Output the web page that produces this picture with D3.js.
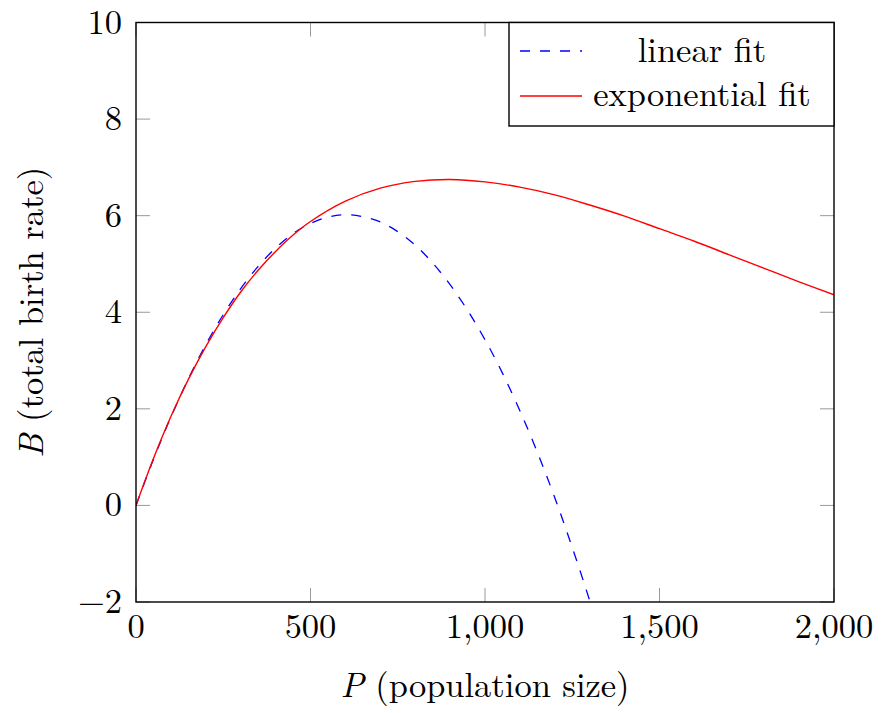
<!DOCTYPE html>
<html><head><meta charset="utf-8">
<script src="https://cdn.jsdelivr.net/npm/d3@7"></script>
<style>
html,body{margin:0;padding:0;background:#fff;}
</style></head>
<body><svg id="chart" width="882" height="713"></svg>
<script>
// Data
const linearP = [0,50,100,150,200,250,300,350,400,450,500,550,600,650,700,750,800,850,900,950,1000,1050,1100,1150,1200,1250,1300,1320];
const linearB = [0,0.955,1.83,2.62,3.33,3.95,4.49,4.95,5.33,5.63,5.84,5.97,6.02,5.98,5.87,5.67,5.39,5.02,4.57,4.04,3.43,2.74,1.96,1.1,0.16,-0.87,-1.97,-2.44];
const expP = [0,50,100,150,200,250,300,350,400,450,500,600,700,800,900,1000,1100,1200,1300,1400,1500,1600,1700,1800,1900,2000];
const expB = [0,0.97,1.84,2.61,3.29,3.89,4.42,4.87,5.26,5.6,5.88,6.3,6.57,6.71,6.75,6.7,6.59,6.43,6.22,5.99,5.73,5.47,5.19,4.91,4.63,4.36];
const xTicks = [0,500,1000,1500,2000];
const yTicks = [-2,0,2,4,6,8,10];
const legendLabels = ["linear fit","exponential fit"];
const xLabel = "(population size)", xVar = "P";
const yLabel = "(total birth rate)", yVar = "B";

const FONT = "Latin Modern Roman, CMU Serif, Liberation Serif, serif";
const svg = d3.select("#chart");
const root = svg.append("g").attr("font-family",FONT);
const L = 136, R = 834, T = 22.5, B = 602;
const x = d3.scaleLinear().domain([0,2000]).range([L,R]);
const y = d3.scaleLinear().domain([-2,10]).range([B,T]);
const fmt = d3.format(",");

svg.append("defs").append("clipPath").attr("id","clip")
  .append("rect").attr("x",L).attr("y",T).attr("width",R-L).attr("height",B-T);

// ticks (inside, on all four sides)
const tickLen = 14;
const tg = root.append("g").attr("stroke","#999").attr("stroke-width",1);
xTicks.forEach(v=>{
  tg.append("line").attr("x1",x(v)).attr("x2",x(v)).attr("y1",B).attr("y2",B-tickLen);
  tg.append("line").attr("x1",x(v)).attr("x2",x(v)).attr("y1",T).attr("y2",T+tickLen);
});
yTicks.forEach(v=>{
  tg.append("line").attr("x1",L).attr("x2",L+tickLen).attr("y1",y(v)).attr("y2",y(v));
  tg.append("line").attr("x1",R).attr("x2",R-tickLen).attr("y1",y(v)).attr("y2",y(v));
});

// lines
const lineGen = d3.line().x(d=>x(d[0])).y(d=>y(d[1])).curve(d3.curveCatmullRom);
const g = root.append("g").attr("clip-path","url(#clip)");
g.append("path").datum(linearP.map((p,i)=>[p,linearB[i]]))
  .attr("d",lineGen).attr("fill","none").attr("stroke","#0000ff")
  .attr("stroke-width",1.3).attr("stroke-dasharray","10,10");
g.append("path").datum(expP.map((p,i)=>[p,expB[i]]))
  .attr("d",lineGen).attr("fill","none").attr("stroke","#ff0000")
  .attr("stroke-width",1.4);

// frame
root.append("rect").attr("x",L).attr("y",T).attr("width",R-L).attr("height",B-T)
  .attr("fill","none").attr("stroke","#000").attr("stroke-width",1.4);

// tick labels
const fs = 34.5;
root.append("g").selectAll("text").data(xTicks).join("text")
  .attr("x",d=>x(d)).attr("y",638).attr("text-anchor","middle")
  .attr("font-size",fs).text(d=>fmt(d));
root.append("g").selectAll("text").data(yTicks).join("text")
  .attr("x",122).attr("y",d=>y(d)+11).attr("text-anchor","end")
  .attr("font-size",fs).text(d=>fmt(d));

// axis labels
const xl = root.append("text").attr("x",(L+R)/2).attr("y",697).attr("text-anchor","middle").attr("font-size",fs);
xl.append("tspan").attr("font-style","italic").text(xVar);
xl.append("tspan").text(" " + xLabel);
const yl = root.append("text").attr("transform",`translate(43,${(T+B)/2}) rotate(-90)`)
  .attr("text-anchor","middle").attr("font-size",fs);
yl.append("tspan").attr("font-style","italic").text(yVar);
yl.append("tspan").text(" " + yLabel);

// legend
const lg = root.append("g");
lg.append("rect").attr("x",509).attr("y",T).attr("width",R-509).attr("height",126-T)
  .attr("fill","#fff").attr("stroke","#000").attr("stroke-width",1.4);
const legendStyles = [{c:"#0000ff",dash:"10,10"},{c:"#ff0000",dash:null}];
legendLabels.forEach((lab,i)=>{
  const cy = 51 + i*45;
  lg.append("line").attr("x1",520).attr("x2",582).attr("y1",cy).attr("y2",cy)
    .attr("stroke",legendStyles[i].c).attr("stroke-width",1.3)
    .attr("stroke-dasharray",legendStyles[i].dash);
  lg.append("text").attr("x",702).attr("y",62+i*44).attr("text-anchor","middle")
    .attr("font-size",fs).text(lab);
});
</script></body></html>
